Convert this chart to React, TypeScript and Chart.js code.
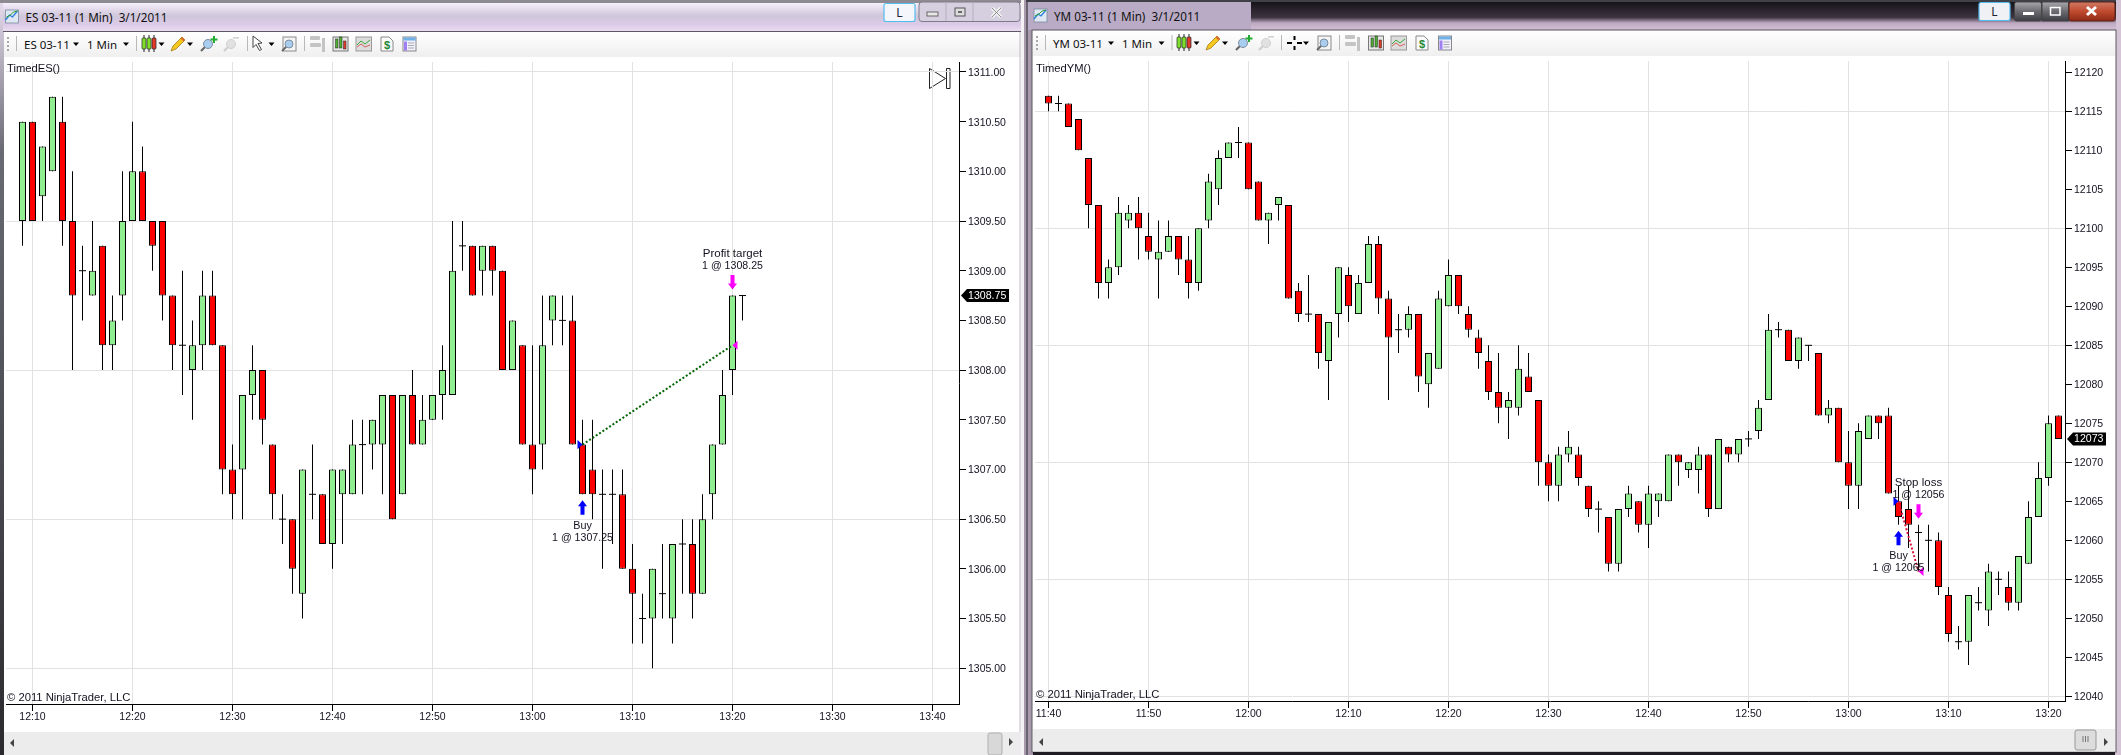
import React, { useEffect, useRef } from "react";
import { Chart, registerables } from "chart.js";

Chart.register(...registerables);

const esStartMinute = 729; // 12:09
const esOpen = [1309.5,1310.5,1309.75,1310,1310.5,1309.5,1309,1308.75,1309.25,1308.25,1308.75,1309.5,1310,1309.5,1309.5,1308.75,1308.25,1308,1308.25,1308.75,1308.25,1307,1307,1307.75,1308,1307.25,1306.5,1306.5,1305.75,1306.75,1306.75,1306.25,1306.75,1306.75,1307.25,1307.25,1307.25,1307.75,1306.75,1307.75,1307.25,1307.5,1307.75,1307.75,1309.25,1309.25,1309,1309.25,1309,1308,1308.25,1307.25,1307.25,1308.5,1308.5,1308.5,1307.25,1307,1306.75,1306.75,1306.75,1306,1305.5,1305.5,1305.75,1305.5,1306.25,1306.25,1305.75,1306.75,1307.25,1308,1308.75];
const esHigh = [1310.5,1310.5,1310.25,1310.75,1310.75,1310,1309.25,1309.5,1309.25,1308.75,1310,1310.5,1310.25,1309.5,1309.5,1308.75,1309,1308.5,1309,1309,1308.25,1307.25,1307.75,1308.25,1308,1307.25,1306.75,1306.5,1307,1307.25,1306.75,1307,1307,1307.5,1307.5,1307.5,1307.75,1307.75,1307.75,1308,1307.75,1307.75,1308.25,1309.5,1309.5,1309.25,1309.25,1309.25,1309,1308.5,1308.25,1308.25,1308.75,1308.75,1308.75,1308.75,1307.5,1307.5,1307,1307,1307,1306.25,1305.75,1306,1306.25,1306.25,1306.5,1306.5,1306.75,1307.25,1308,1308.75,1308.75];
const esLow = [1309.25,1309.5,1309.5,1310,1309.25,1308,1308.5,1308.75,1308,1308,1308.5,1309.5,1309.5,1309,1308.5,1308,1307.75,1307.5,1308,1308.25,1306.75,1306.5,1306.5,1307.5,1307.25,1306.5,1306.25,1305.75,1305.5,1306.5,1306.25,1306,1306.25,1306.75,1306.75,1307,1306.75,1306.5,1306.75,1307.25,1307.25,1307.5,1307.5,1307.75,1309,1308.75,1308.75,1308.75,1308,1308,1307.25,1306.75,1307,1308.25,1308.25,1307.25,1306.75,1306.5,1306,1306.25,1306,1305.25,1305.25,1305,1305.5,1305.25,1305.75,1305.5,1305.75,1306.5,1307.25,1307.75,1308.5];
const esClose = [1310.5,1309.5,1310.25,1310.75,1309.5,1308.75,1309,1309,1308.25,1308.5,1309.5,1310,1309.5,1309.25,1308.75,1308.25,1308.25,1308.25,1308.75,1308.25,1307,1306.75,1307.75,1308,1307.5,1306.75,1306.5,1306,1307,1306.75,1306.25,1307,1307,1307.25,1307.25,1307.5,1307.75,1306.5,1307.75,1307.25,1307.5,1307.75,1308,1309,1309.25,1308.75,1309.25,1309,1308,1308.5,1307.25,1307,1308.25,1308.75,1308.5,1307.25,1306.75,1306.75,1306.75,1306.75,1306,1305.75,1305.5,1306,1305.75,1306.25,1306.25,1305.75,1306.5,1307.25,1307.75,1308.75,1308.75];

const ymStartMinute = 700; // 11:40
const ymOpen = [12117,12116,12116,12114,12109,12103,12093,12095,12101,12102,12099,12096,12097,12099,12096,12093,12101,12105,12109,12111,12111,12106,12101,12103,12103,12092,12089,12089,12083,12089,12094,12089,12093,12098,12091,12087,12087,12089,12080,12082,12090,12094,12089,12086,12083,12079,12077,12077,12081,12078,12070,12067,12071,12071,12067,12064,12063,12057,12064,12065,12062,12065,12065,12071,12069,12069,12071,12064,12072,12071,12073,12074,12078,12087,12087,12083,12085,12084,12076,12077,12070,12067,12073,12076,12076,12065,12064,12061,12060,12060,12053,12047,12047,12052,12051,12055,12054,12052,12057,12063,12068,12076];
const ymHigh = [12117,12117,12116,12114,12109,12103,12096,12104,12103,12104,12102,12101,12101,12099,12099,12100,12107,12110,12111,12113,12111,12106,12102,12104,12103,12093,12094,12089,12088,12095,12095,12094,12099,12099,12092,12089,12090,12089,12084,12092,12096,12094,12090,12087,12085,12084,12079,12085,12084,12078,12071,12072,12074,12072,12067,12065,12063,12064,12067,12065,12067,12066,12071,12071,12070,12072,12071,12073,12072,12073,12074,12078,12089,12088,12087,12086,12085,12084,12078,12077,12074,12075,12076,12076,12077,12067,12067,12062,12062,12061,12054,12049,12053,12054,12057,12056,12056,12058,12065,12070,12076,12076];
const ymLow = [12115,12115,12113,12110,12100,12091,12091,12094,12100,12096,12096,12091,12097,12094,12091,12092,12100,12103,12109,12109,12105,12101,12098,12101,12091,12088,12088,12082,12078,12086,12088,12089,12093,12089,12078,12084,12086,12079,12077,12082,12090,12089,12086,12082,12078,12075,12073,12076,12079,12067,12065,12065,12070,12067,12063,12061,12056,12056,12063,12061,12059,12063,12065,12067,12068,12066,12063,12064,12070,12070,12072,12073,12078,12086,12083,12082,12083,12076,12075,12070,12064,12064,12073,12073,12066,12062,12059,12056,12056,12053,12047,12046,12044,12051,12049,12053,12051,12051,12057,12063,12067,12073];
const ymClose = [12116,12116,12113,12110,12103,12093,12095,12102,12102,12100,12097,12097,12099,12096,12093,12100,12106,12109,12111,12111,12105,12101,12102,12104,12091,12089,12089,12084,12088,12095,12090,12093,12098,12091,12086,12087,12089,12081,12084,12091,12094,12090,12087,12084,12079,12077,12078,12082,12079,12070,12067,12071,12072,12068,12064,12064,12057,12064,12066,12062,12066,12066,12071,12070,12070,12071,12064,12073,12071,12073,12073,12077,12087,12087,12083,12086,12085,12076,12077,12070,12067,12074,12076,12075,12066,12063,12062,12061,12060,12054,12048,12047,12053,12052,12056,12055,12052,12058,12063,12068,12075,12073];

const esTickLabels = { decimals: 2, step: 0.5, gridEvery: 1.5, gridBase: 1305 };
const ymTickLabels = { decimals: 0, step: 5, gridEvery: 15, gridBase: 12040 };
const esEntry = { minute: 785, price: 1307.25, lines: ["Buy", "1 @ 1307.25"] };
const esExit = { minute: 800, price: 1308.25, lines: ["Profit target", "1 @ 1308.25"] };
const ymEntry = { minute: 785, price: 12065, lines: ["Buy", "1 @ 12065"] };
const ymExit = { minute: 787, price: 12056, lines: ["Stop loss", "1 @ 12056"] };

const FONT = '"Liberation Sans", Arial, sans-serif';
const UI = '"Noto Sans", sans-serif';
const UP = "#90ee90";
const DOWN = "#ff0000";
const GRID = "#e2e2e2";
const INK = "#14101f";

const clock = (m: number) => `${Math.floor(m / 60)}:${String(m % 60).padStart(2, "0")}`;

function arrow(ctx: any, x: number, tip: number, dir: number, color: string) {
  ctx.fillStyle = color;
  ctx.beginPath();
  ctx.moveTo(x, tip);
  ctx.lineTo(x + 4.5, tip - dir * 6);
  ctx.lineTo(x + 2, tip - dir * 6);
  ctx.lineTo(x + 2, tip - dir * 14.5);
  ctx.lineTo(x - 2, tip - dir * 14.5);
  ctx.lineTo(x - 2, tip - dir * 6);
  ctx.lineTo(x - 4.5, tip - dir * 6);
  ctx.closePath();
  ctx.fill();
}

function tri(ctx: any, x: number, y: number, dir: number, color: string) {
  ctx.fillStyle = color;
  ctx.beginPath();
  ctx.moveTo(x, y);
  ctx.lineTo(x - dir * 5, y - 4.6);
  ctx.lineTo(x - dir * 5, y + 4.6);
  ctx.closePath();
  ctx.fill();
}

function PriceChart(p: any) {
  const ref = useRef<HTMLCanvasElement | null>(null);
  useEffect(() => {
    const { start, open, high, low, close, ticks, entry, exit, tradeColor, name } = p;
    const mins = open.map((_: number, i: number) => start + i);
    const bodies = mins
      .map((m: number, i: number) => ({ x: m, y: [open[i], close[i]], up: close[i] > open[i] }))
      .filter((d: any) => d.y[0] !== d.y[1]);
    const dojis = mins
      .map((m: number, i: number) => ({ x: m, y: close[i], flat: open[i] === close[i] }))
      .filter((d: any) => d.flat);
    const idx = (m: number) => m - start;
    const overlay = {
      id: "overlay",
      afterDraw(chart: any) {
        const { ctx, chartArea: a, scales } = chart;
        const X = (v: number) => Math.floor(scales.x.getPixelForValue(v)) + 0.5;
        const Y = (v: number) => scales.y.getPixelForValue(v);
        ctx.save();
        ctx.fillStyle = INK;
        ctx.textBaseline = "middle";
        ctx.textAlign = "left";
        ctx.font = `11.2px ${FONT}`;
        ctx.fillText(name, a.left + 1, 69 - chart.canvas.offsetTop);
        ctx.font = `11.25px ${FONT}`;
        ctx.fillText("© 2011 NinjaTrader, LLC", a.left + 1, a.bottom - 6);

        tri(ctx, X(entry.minute), Y(entry.price), 1, "#0000ff");
        tri(ctx, X(exit.minute), Y(exit.price), -1, "#ff00ff");

        const buyX = X(entry.minute);
        const buyTip = Y(low[idx(entry.minute)]) + 6;
        arrow(ctx, buyX, buyTip, -1, "#0000ff");
        const exitX = X(exit.minute);
        const exitTip = Y(high[idx(exit.minute)]) - 6;
        arrow(ctx, exitX, exitTip, 1, "#ff00ff");

        ctx.fillStyle = INK;
        ctx.textAlign = "center";
        ctx.font = `10.8px ${FONT}`;
        ctx.fillText(entry.lines[0], buyX, buyTip + 25.5);
        ctx.font = `10.6px ${FONT}`;
        ctx.fillText(entry.lines[1], buyX, buyTip + 37.5);
        ctx.font = `11.5px ${FONT}`;
        ctx.fillText(exit.lines[0], exitX, exitTip - 35.5);
        ctx.font = `10.6px ${FONT}`;
        ctx.fillText(exit.lines[1], exitX, exitTip - 23.5);

        // last-price tag
        const last = close[close.length - 1];
        const ty = Y(last);
        const left = a.right + 2;
        const right = a.right + p.tagWidth;
        ctx.fillStyle = "#000";
        ctx.beginPath();
        ctx.moveTo(left, ty);
        ctx.lineTo(left + 6, ty - 6.5);
        ctx.lineTo(right, ty - 6.5);
        ctx.lineTo(right, ty + 6.5);
        ctx.lineTo(left + 6, ty + 6.5);
        ctx.closePath();
        ctx.fill();
        ctx.fillStyle = "#fff";
        ctx.textAlign = "left";
        ctx.font = `10.6px ${FONT}`;
        ctx.fillText(last.toFixed(ticks.decimals), left + 7, ty + 0.5);
        ctx.restore();
      },
    };
    const chart = new Chart(ref.current as any, {
      type: "bar",
      data: {
        datasets: [
          {
            type: "bar",
            grouped: false,
            order: 5,
            barThickness: 1,
            backgroundColor: "#000",
            borderWidth: 0,
            inflateAmount: 0,
            data: mins.map((m: number, i: number) => ({ x: m, y: [low[i], high[i]] })),
          },
          {
            type: "bar",
            grouped: false,
            order: 4,
            barThickness: 7,
            borderWidth: 1,
            borderColor: "#000",
            borderSkipped: false,
            inflateAmount: 0,
            backgroundColor: bodies.map((d: any) => (d.up ? UP : DOWN)),
            data: bodies,
          },
          {
            type: "scatter",
            order: 3,
            pointStyle: "line",
            pointRadius: 3.5,
            pointBorderColor: "#000",
            pointBorderWidth: 1,
            data: dojis,
          },
          {
            type: "line",
            order: 2,
            borderColor: tradeColor,
            borderWidth: 2,
            borderDash: [2, 2],
            pointRadius: 0,
            data: [
              { x: entry.minute, y: entry.price },
              { x: exit.minute, y: exit.price },
            ],
          },
        ],
      } as any,
      options: {
        animation: false,
        responsive: false,
        devicePixelRatio: 1,
        events: [],
        layout: { padding: { left: p.padLeft, top: 14, right: 0, bottom: 0 } },
        plugins: { legend: { display: false }, tooltip: { enabled: false } },
        scales: {
          x: {
            type: "linear",
            offset: false,
            min: p.xMin,
            max: p.xMax,
            afterFit: (s: any) => { s.height = 38; },
            border: { color: "#000", width: 1 },
            grid: { offset: false, color: GRID, tickColor: "#000", tickLength: 7, lineWidth: 1 },
            ticks: {
              stepSize: 10,
              includeBounds: false,
              autoSkip: false,
              maxRotation: 0,
              padding: 0,
              color: INK,
              font: { family: FONT, size: 10.5 },
              callback: (v: any) => clock(v),
            },
          },
          y: {
            position: "right",
            min: p.yMin,
            max: p.yMax,
            afterFit: (s: any) => { s.width = p.axisWidth; },
            border: { color: "#000", width: 1 },
            grid: {
              tickColor: "#000",
              tickLength: 7,
              lineWidth: 1,
              color: (c: any) =>
                Math.abs(((c.tick.value - ticks.gridBase) / ticks.gridEvery) % 1) < 1e-6 ? GRID : "rgba(0,0,0,0)",
            },
            ticks: {
              stepSize: ticks.step,
              includeBounds: false,
              autoSkip: false,
              padding: 2,
              labelOffset: 1,
              color: INK,
              font: { family: FONT, size: 10.5 },
              callback: (v: any) => Number(v).toFixed(ticks.decimals),
            },
          },
        },
      } as any,
      plugins: [overlay],
    });
    return () => chart.destroy();
  }, []);
  return (
    <canvas
      ref={ref}
      width={p.w}
      height={p.h}
      style={{ position: "absolute", left: p.x, top: p.y, width: p.w, height: p.h, display: "block" }}
    />
  );
}

const Caret = ({ x, y }: any) => <path d={`M${x - 3} ${y - 1.5}h6l-3 3.5z`} fill="#000" />;
const Sep = ({ x, y }: any) => <rect x={x} y={y - 8} width={1} height={15} fill="#b8b8b8" />;

const Candles = ({ x, y }: any) => (
  <g>
    {[0, 5, 10].map((dx, i) => (
      <g key={i}>
        <rect x={x + dx + 1.5} y={y - 9} width={1} height={17} fill="#222" />
        <rect x={x + dx} y={y - 6} width={4} height={11} rx={1} fill={i === 2 ? "#e03a2a" : "#7ee02a"} stroke="#222" strokeWidth={0.7} />
      </g>
    ))}
  </g>
);
const Pencil = ({ x, y }: any) => (
  <g>
    <path d={`M${x} ${y + 7}l2 -5l9 -9l3 3l-9 9z`} fill="#f4c820" stroke="#a67c10" strokeWidth={0.8} />
    <path d={`M${x + 11} ${y - 7}l3 3l-1.5 1.5l-3 -3z`} fill="#e06a30" />
  </g>
);
const Mag = ({ x, y, grey, plus }: any) => (
  <g opacity={grey ? 0.5 : 1}>
    <path d={`M${x + 1} ${y + 7}l4 -4`} stroke={grey ? "#aaa" : "#666"} strokeWidth={2.2} />
    <circle cx={x + 8} cy={y} r={4.5} fill={grey ? "#ccc" : "#a9cdee"} stroke={grey ? "#aaa" : "#7d8ea0"} strokeWidth={1} />
    {plus && <path d={`M${x + 13} ${y - 8}h2v2.5h2.5v2h-2.5v2.5h-2v-2.5h-2.5v-2h2.5z`} fill="#22aa33" />}
    {grey && <rect x={x + 10} y={y - 7} width={6} height={1.6} fill="#aaa" />}
  </g>
);
const MagBox = ({ x, y }: any) => (
  <g>
    <rect x={x + 2} y={y - 7} width={13} height={14} fill="#f4f4f4" stroke="#8a8a8a" />
    <circle cx={x + 8} cy={y} r={4} fill="#a9cdee" stroke="#7d8ea0" />
    <path d={`M${x + 5} ${y + 3}l-4 4`} stroke="#666" strokeWidth={1.8} />
  </g>
);
const Cursor = ({ x, y }: any) => (
  <path d={`M${x} ${y - 8}l0 0l9 7l-4 .5l3.5 6l-2 1l-3.5 -6l-3 3z`} fill="#fff" stroke="#444" strokeWidth={1} />
);
const Cross = ({ x, y }: any) => (
  <path d={`M${x} ${y}h5M${x + 10} ${y}h5M${x + 7.5} ${y - 7}v4M${x + 7.5} ${y + 3}v4`} stroke="#000" strokeWidth={2} />
);
const GreyTool = ({ x, y }: any) => (
  <g fill="#c4c4c4">
    <rect x={x} y={y - 8} width={10} height={4} rx={1} />
    <rect x={x} y={y - 1} width={11} height={4} rx={1} />
    <rect x={x + 12} y={y - 6} width={3} height={14} />
  </g>
);
const CandleBox = ({ x, y }: any) => (
  <g>
    <rect x={x} y={y - 7} width={15} height={14} fill="#e8e8e8" stroke="#777" />
    <rect x={x + 2.5} y={y - 5} width={2.5} height={9} fill="#4caf30" stroke="#222" strokeWidth={0.5} />
    <rect x={x + 6.5} y={y - 7} width={2.5} height={11} fill="#4caf30" stroke="#222" strokeWidth={0.5} />
    <rect x={x + 10.5} y={y - 3} width={2.5} height={8} fill="#e03a2a" stroke="#222" strokeWidth={0.5} />
  </g>
);
const LineBox = ({ x, y }: any) => (
  <g>
    <rect x={x} y={y - 7} width={15.5} height={14} fill="#dcdcdc" stroke="#999" />
    <path d={`M${x + 1} ${y + 1}l4 -4l4 3l5 -4`} fill="none" stroke="#38a838" />
    <path d={`M${x + 1} ${y + 3}l4 -3l4 3l5 -2`} fill="none" stroke="#d86060" />
  </g>
);
const DollarDoc = ({ x, y }: any) => (
  <g>
    <path d={`M${x} ${y - 7}h8l4 4v10h-12z`} fill="#fafafa" stroke="#8a8a8a" />
    <text x={x + 6} y={y + 4.5} fontSize={11} fontWeight={700} textAnchor="middle" fill="#228833" fontFamily={FONT}>$</text>
  </g>
);
const ListBox = ({ x, y }: any) => (
  <g>
    <rect x={x} y={y - 7} width={13} height={14} fill="#f0f0ff" stroke="#888" />
    <rect x={x + 0.5} y={y - 6.5} width={12} height={3} fill="#70b0e8" />
    <rect x={x + 1} y={y - 2.5} width={3} height={9} fill="#a080f0" />
    <path d={`M${x + 5} ${y - 1}h6M${x + 5} ${y + 1.5}h6M${x + 5} ${y + 4}h6`} stroke="#aaa" />
  </g>
);
const AppIcon = ({ x, y }: any) => (
  <g>
    <rect x={x} y={y} width={13} height={13} fill="#dfe8f2" stroke="#7a8aa0" strokeWidth={0.8} />
    <path d={`M${x} ${y + 10}l4 -5l3 2l5 -6`} fill="none" stroke="#2a7adf" strokeWidth={1.3} />
    <path d={`M${x + 1} ${y + 7}l4 -2l3 -3l4 -1`} fill="none" stroke="#30a030" strokeWidth={1} />
  </g>
);
const Grip = ({ x, y }: any) => (
  <g fill="#a8a8a8">
    {[0, 4, 8, 12].map((d) => <rect key={d} x={x} y={y + d} width={2} height={2} />)}
  </g>
);

function Toolbar({ pos, cy, label }: any) {
  const t = { fontFamily: UI, fontSize: 11.5, fill: "#111", dominantBaseline: "central" as const };
  return (
    <g>
      <Grip x={pos.grip} y={cy - 7} />
      <Sep x={pos.sep1} y={cy} />
      <text x={pos.sym} y={cy} {...t}>{label}</text>
      <Caret x={pos.symC} y={cy} />
      <text x={pos.min} y={cy} {...t}>1 Min</text>
      <Caret x={pos.minC} y={cy} />
      <Sep x={pos.sep2} y={cy} />
      <Candles x={pos.can} y={cy} />
      <Caret x={pos.canC} y={cy} />
      <Pencil x={pos.pen} y={cy} />
      <Caret x={pos.penC} y={cy} />
      <Mag x={pos.mag} y={cy} plus />
      <Mag x={pos.mag2} y={cy} grey />
      <Sep x={pos.sep3} y={cy} />
      {pos.cross ? <Cross x={pos.cross} y={cy} /> : <Cursor x={pos.cur} y={cy} />}
      <Caret x={pos.curC} y={cy} />
      <MagBox x={pos.box} y={cy} />
      <Sep x={pos.sep4} y={cy} />
      <GreyTool x={pos.grey} y={cy} />
      <CandleBox x={pos.cb} y={cy} />
      <LineBox x={pos.lb} y={cy} />
      <DollarDoc x={pos.dd} y={cy} />
      <ListBox x={pos.list} y={cy} />
    </g>
  );
}

function Chrome() {
  return (
    <svg width={2121} height={755} style={{ position: "absolute", left: 0, top: 0 }}>
      <defs>
        <linearGradient id="tl" x1="0" y1="0" x2="0" y2="1">
          <stop offset="0" stopColor="#f6effc" />
          <stop offset="0.45" stopColor="#cfc6da" />
          <stop offset="0.75" stopColor="#dccbe8" />
          <stop offset="1" stopColor="#ecdff3" />
        </linearGradient>
        <linearGradient id="tr" x1="0" y1="0" x2="0" y2="1">
          <stop offset="0" stopColor="#17141a" />
          <stop offset="0.55" stopColor="#3d3440" />
          <stop offset="0.75" stopColor="#bda9c2" />
          <stop offset="1" stopColor="#d2bfd4" />
        </linearGradient>
        <linearGradient id="tb" x1="0" y1="0" x2="0" y2="1">
          <stop offset="0" stopColor="#ffffff" />
          <stop offset="1" stopColor="#efefef" />
        </linearGradient>
        <linearGradient id="edge" x1="0" y1="0" x2="0" y2="1">
          <stop offset="0" stopColor="#e6dcee" />
          <stop offset="0.2" stopColor="#6a6a74" />
          <stop offset="1" stopColor="#2a2a2e" />
        </linearGradient>
        <linearGradient id="btnD" x1="0" y1="0" x2="0" y2="1">
          <stop offset="0" stopColor="#a8a8ac" />
          <stop offset="0.5" stopColor="#6a6a70" />
          <stop offset="1" stopColor="#3c3c44" />
        </linearGradient>
        <linearGradient id="btnR" x1="0" y1="0" x2="0" y2="1">
          <stop offset="0" stopColor="#cf7a66" />
          <stop offset="0.5" stopColor="#c04a2e" />
          <stop offset="1" stopColor="#8e2a16" />
        </linearGradient>
      </defs>
      <rect width={2121} height={755} fill="#a99bad" />
      {/* left window */}
      <rect x={0} y={0} width={4} height={755} fill="url(#edge)" />
      <rect x={0} y={0} width={1024} height={3} fill="#8d8a92" />
      <rect x={3} y={3} width={1018} height={29} fill="url(#tl)" />
      <rect x={3} y={31} width={1018} height={1} fill="#5c5866" />
      <rect x={4} y={32} width={1017} height={723} fill="#fff" />
      <rect x={4} y={32} width={1017} height={25} fill="url(#tb)" />
      <rect x={1021} y={0} width={3} height={755} fill="#f4f2f5" />
      <rect x={1019.5} y={32} width={1} height={723} fill="#bdbdbd" />
      <rect x={4} y={732} width={1017} height={23} fill="#ececec" />
      <path d="M12 749l-4 -4l4 -4z" transform="translate(2 -2)" fill="#444" />
      <rect x={988} y={733} width={14} height={22} rx={2} fill="#d8d8d8" stroke="#b0b0b0" />
      <path d="M1009 738l4 4l-4 4z" fill="#444" />
      <AppIcon x={5.5} y={10} />
      <text x={25.5} y={17} fontFamily={UI} fontSize={11.7} fill="#111" dominantBaseline="central" style={{ whiteSpace: "pre" }}>ES 03-11 (1 Min)  3/1/2011</text>
      <rect x={884} y={3.5} width={31} height={18} rx={2} fill="#f4f6fb" stroke="#54bdf0" strokeWidth={1.2} />
      <text x={899.5} y={12.5} fontFamily={UI} fontSize={12} fill="#223" textAnchor="middle" dominantBaseline="central">L</text>
      <rect x={919} y={2} width={101} height={19.5} rx={3} fill="#d6cfe0" stroke="#7f7a8a" />
      <path d="M946 2v19M973 2v19" stroke="#b4afbe" />
      <rect x={927} y={12} width={11} height={4} fill="#e8e8e8" stroke="#666" />
      <rect x={955} y={8} width={10} height={8} fill="#ddd" stroke="#555" />
      <rect x={958} y={11} width={4} height={2} fill="#666" />
      <path d="M992 8l9 9M1001 8l-9 9" stroke="#f0f0f0" strokeWidth={3.5} />
      <path d="M992 8l9 9M1001 8l-9 9" stroke="#666" strokeWidth={1} fill="none" opacity={0.7} />
      <Toolbar
        cy={44}
        label="ES 03-11"
        pos={{ grip: 7, sep1: 16, sym: 24, symC: 76, min: 87, minC: 126, sep2: 136, can: 142, canC: 161.5, pen: 171, penC: 190, mag: 200, mag2: 223, sep3: 247, cur: 253, curC: 271.5, box: 281, sep4: 304, grey: 310, cb: 333, lb: 356, dd: 381, list: 403 }}
      />
      <path d="M929.5 68.5l16 10l-16 10zM946.5 68.5h3.5v20h-3.5z" fill="#fff" stroke="#222" />

      {/* right window */}
      <rect x={1026} y={0} width={1095} height={755} fill="#d4c4d6" />
      <rect x={1026} y={0} width={1090} height={2} fill="#404048" />
      <rect x={1027} y={2} width={224} height={28} fill="#b9abc6" />
      <rect x={1251} y={2} width={865} height={28} fill="url(#tr)" />
      <rect x={1026} y={2} width={2} height={753} fill="#6a6470" />
      <rect x={1028} y={30} width={5} height={725} fill="#a99bad" />
      <rect x={1032} y={30} width={1084} height={722} fill="#fff" stroke="#58545e" />
      <rect x={1033} y={31} width={1082} height={25} fill="url(#tb)" />
      <rect x={1033} y={729} width={1082} height={22.5} fill="#ececec" />
      <path d="M1043 738l-4 4l4 4z" fill="#444" />
      <rect x={2075} y={730} width={21} height={20} rx={2} fill="#dcdcdc" stroke="#999" />
      <path d="M2083 736v6M2085.5 736v6M2088 736v6" stroke="#777" />
      <path d="M2104 738l4 4l-4 4z" fill="#444" />
      <rect x={1033} y={752} width={1082} height={3} fill="#1e1c22" />
      <AppIcon x={1034} y={9} />
      <text x={1054} y={16} fontFamily={UI} fontSize={11.7} fill="#111" dominantBaseline="central" style={{ whiteSpace: "pre" }}>YM 03-11 (1 Min)  3/1/2011</text>
      <rect x={1979} y={2.5} width={31} height={18} rx={2} fill="#f0f1f5" stroke="#54bdf0" strokeWidth={1.2} />
      <text x={1994.5} y={11.5} fontFamily={UI} fontSize={12} fill="#223" textAnchor="middle" dominantBaseline="central">L</text>
      <rect x={2014.5} y={2} width={27} height={19} rx={2} fill="url(#btnD)" stroke="#444" />
      <rect x={2042} y={2} width={26.5} height={19} fill="url(#btnD)" stroke="#444" />
      <rect x={2069} y={2} width={46} height={19} rx={2} fill="url(#btnR)" stroke="#5a2016" />
      <rect x={2023} y={12} width={11} height={3} fill="#fff" />
      <rect x={2050.5} y={7.5} width={9.5} height={7.5} fill="none" stroke="#fff" strokeWidth={1.5} />
      <path d="M2087 7l9 8M2096 7l-9 8" stroke="#fff" strokeWidth={3} />
      <Toolbar
        cy={43}
        label="YM 03-11"
        pos={{ grip: 1036, sep1: 1045, sym: 1053, symC: 1111, min: 1122, minC: 1161.5, sep2: 1171.5, can: 1177, canC: 1196.5, pen: 1206, penC: 1225, mag: 1235, mag2: 1258, sep3: 1281, cross: 1287, curC: 1306, box: 1316, sep4: 1339, grey: 1345, cb: 1368.5, lb: 1391, dd: 1416, list: 1438.5 }}
      />
    </svg>
  );
}

export default function App() {
  useEffect(() => {
    document.body.style.margin = "0";
    document.body.style.overflow = "hidden";
  }, []);
  return (
    <div style={{ position: "absolute", left: 0, top: 0, width: 2121, height: 755, overflow: "hidden" }}>
      <Chrome />
      <PriceChart
        x={0} y={48} w={1011} h={694} padLeft={6} axisWidth={52} tagWidth={50}
        start={esStartMinute} open={esOpen} high={esHigh} low={esLow} close={esClose}
        xMin={727.35} xMax={822.65} yMin={1304.64} yMax={1311.1}
        ticks={esTickLabels} entry={esEntry} exit={esExit} tradeColor="#006400" name="TimedES()"
      />
      <PriceChart
        x={1030} y={47} w={1085} h={692} padLeft={5} axisWidth={50} tagWidth={41}
        start={ymStartMinute} open={ymOpen} high={ymHigh} low={ymLow} close={ymClose}
        xMin={698.65} xMax={801.65} yMin={12039.4} yMax={12121.45}
        ticks={ymTickLabels} entry={ymEntry} exit={ymExit} tradeColor="#dc143c" name="TimedYM()"
      />
    </div>
  );
}
